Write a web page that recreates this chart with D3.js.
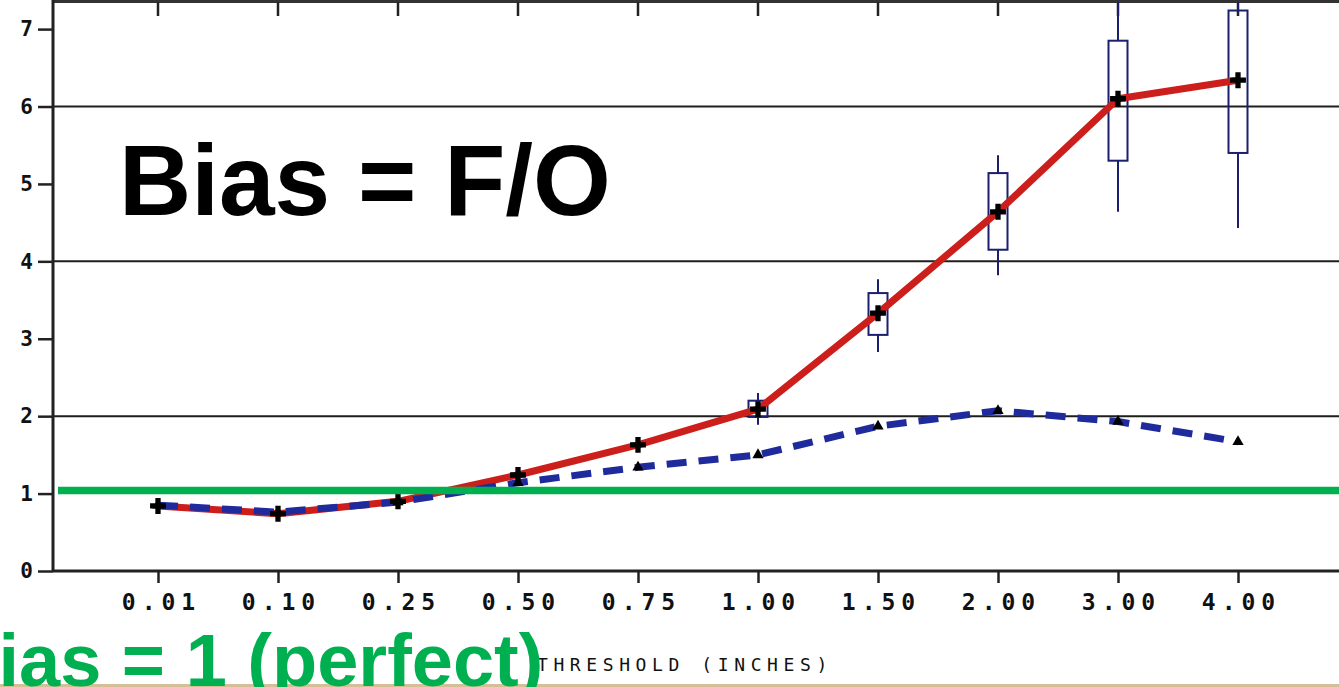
<!DOCTYPE html>
<html>
<head>
<meta charset="utf-8">
<script src="https://cdn.jsdelivr.net/npm/d3@7/dist/d3.min.js"></script>
<style>
  html, body { margin: 0; padding: 0; background: #ffffff; overflow: hidden; }
  svg { display: block; }
</style>
</head>
<body>
<svg id="chart" width="1339" height="687"></svg>
<script>
// ---- data ----
const categories = ["0.01", "0.10", "0.25", "0.50", "0.75", "1.00", "1.50", "2.00", "3.00", "4.00"];
const biasRed    = [0.84, 0.74, 0.90, 1.24, 1.63, 2.09, 3.33, 4.64, 6.10, 6.34];
const biasBlue   = [0.85, 0.76, 0.89, 1.14, 1.34, 1.50, 1.87, 2.07, 1.93, 1.67];
// box plots (whiskerLow, boxLow, boxHigh, whiskerHigh) for a subset of thresholds
const boxCats    = ["1.00", "1.50", "2.00", "3.00", "4.00"];
const whiskerLow = [1.89, 2.83, 3.82, 4.64, 4.43];
const boxLow     = [1.99, 3.05, 4.15, 5.30, 5.40];
const boxHigh    = [2.20, 3.59, 5.14, 6.85, 7.24];
const whiskerHigh= [2.30, 3.77, 5.37, 7.60, 7.60];
const yTicks     = [0, 1, 2, 3, 4, 5, 6, 7];
const gridValues = [2, 4, 6];
const perfectBias = 1.04;
const titleText  = "Bias = F/O";
const perfectText = "Bias = 1 (perfect)";
const xTitle     = "THRESHOLD (INCHES)";

// ---- layout ----
const W = 1339, H = 687;
const pLeft = 53, pTop = 2, pBottom = 571, pRight = 1343;
const svg = d3.select("#chart");

const x = d3.scalePoint().domain(categories).range([pLeft, pRight]).padding(0.875);
const y = d3.scaleLinear().domain([0, 7.35]).range([pBottom, pTop]);

svg.append("defs").append("clipPath").attr("id", "plotclip")
  .append("rect").attr("x", pLeft).attr("y", pTop).attr("width", W - pLeft).attr("height", pBottom - pTop);

// gridlines
svg.append("g").selectAll("line").data(gridValues).join("line")
  .attr("x1", pLeft).attr("x2", W)
  .attr("y1", d => y(d)).attr("y2", d => y(d))
  .attr("stroke", "#1e1e1e").attr("stroke-width", 2);

// top frame
svg.append("line").attr("x1", pLeft).attr("x2", W).attr("y1", 1.5).attr("y2", 1.5)
  .attr("stroke", "#333").attr("stroke-width", 3);
// top ticks
svg.append("g").selectAll("line").data(categories).join("line")
  .attr("x1", d => x(d)).attr("x2", d => x(d)).attr("y1", 2).attr("y2", 16)
  .attr("stroke", "#222").attr("stroke-width", 2.5);

// y axis
const yAxis = d3.axisLeft(y).tickValues(yTicks).tickSize(15).tickPadding(5).tickFormat(d3.format("d"));
const gy = svg.append("g").attr("transform", `translate(${pLeft},0)`).call(yAxis);
gy.select(".domain").remove();
gy.selectAll(".tick line").attr("stroke", "#222").attr("stroke-width", 2.5);
gy.selectAll(".tick text")
  .attr("font-family", "'DejaVu Sans Mono', monospace").attr("font-weight", "bold")
  .attr("font-size", 21).attr("fill", "#111");
svg.append("line").attr("x1", pLeft).attr("x2", pLeft).attr("y1", 0).attr("y2", pBottom + 1)
  .attr("stroke", "#222").attr("stroke-width", 3);

// x axis
const xAxis = d3.axisBottom(x).tickSize(12).tickPadding(11);
const gx = svg.append("g").attr("transform", `translate(0,${pBottom})`).call(xAxis);
gx.select(".domain").remove();
gx.selectAll(".tick line").attr("stroke", "#222").attr("stroke-width", 2.5);
gx.selectAll(".tick text")
  .attr("font-family", "'DejaVu Sans Mono', monospace").attr("font-weight", "bold")
  .attr("font-size", 23).attr("fill", "#111")
  .style("letter-spacing", "6px").attr("dx", 3);
svg.append("line").attr("x1", pLeft).attr("x2", W).attr("y1", pBottom).attr("y2", pBottom)
  .attr("stroke", "#222").attr("stroke-width", 3);

// x axis title
svg.append("text").attr("x", 537).attr("y", 671)
  .attr("font-family", "'DejaVu Sans Mono', monospace").attr("font-size", 18)
  .style("letter-spacing", "5.6px").attr("fill", "#111")
  .text(xTitle);

// box plots
const boxData = boxCats.map((c, i) => ({ c, wl: whiskerLow[i], bl: boxLow[i], bh: boxHigh[i], wh: whiskerHigh[i] }));
const gb = svg.append("g").attr("clip-path", "url(#plotclip)");
const bw = 19;
gb.selectAll("line.wlo").data(boxData).join("line").attr("class", "wlo")
  .attr("x1", d => x(d.c)).attr("x2", d => x(d.c))
  .attr("y1", d => y(d.wl)).attr("y2", d => y(d.bl))
  .attr("stroke", "#1c1f6e").attr("stroke-width", 2);
gb.selectAll("line.whi").data(boxData).join("line").attr("class", "whi")
  .attr("x1", d => x(d.c)).attr("x2", d => x(d.c))
  .attr("y1", d => y(d.bh)).attr("y2", d => y(d.wh))
  .attr("stroke", "#1c1f6e").attr("stroke-width", 2);
gb.selectAll("rect").data(boxData).join("rect")
  .attr("x", d => x(d.c) - bw / 2).attr("width", bw)
  .attr("y", d => y(d.bh)).attr("height", d => y(d.bl) - y(d.bh))
  .attr("fill", "none").attr("stroke", "#1c1f6e").attr("stroke-width", 2);

// red line
const line = (vals) => d3.line().x((d, i) => x(categories[i])).y(d => y(d))(vals);
svg.append("path").attr("d", line(biasRed))
  .attr("fill", "none").attr("stroke", "#cc1f1c").attr("stroke-width", 7)
  .attr("stroke-linejoin", "round");
// blue dashed line
svg.append("path").attr("d", line(biasBlue))
  .attr("fill", "none").attr("stroke", "#1f2a9c").attr("stroke-width", 7)
  .attr("stroke-dasharray", "20,12");

// markers
svg.append("g").selectAll("path").data(biasBlue).join("path")
  .attr("transform", (d, i) => `translate(${x(categories[i])},${y(d)})`)
  .attr("d", d3.symbol().type(d3.symbolTriangle).size(55))
  .attr("fill", "#000");
svg.append("g").selectAll("path").data(biasRed).join("path")
  .attr("transform", (d, i) => `translate(${x(categories[i])},${y(d)})`)
  .attr("d", d3.symbol().type(d3.symbolCross).size(140))
  .attr("fill", "#000");

// perfect-bias reference line
svg.append("line").attr("x1", pLeft + 5).attr("x2", W)
  .attr("y1", y(perfectBias)).attr("y2", y(perfectBias))
  .attr("stroke", "#00b050").attr("stroke-width", 7.5);

// overlay texts
svg.append("text").attr("x", 119).attr("y", 215)
  .attr("font-family", "'Liberation Sans', Arial, sans-serif").attr("font-weight", "bold")
  .attr("font-size", 100).attr("fill", "#000").text(titleText);

svg.append("rect").attr("x", 0).attr("y", 684).attr("width", W).attr("height", 3).attr("fill", "#d6bf98");

svg.append("text").attr("x", -55).attr("y", 686)
  .attr("font-family", "'Liberation Sans', Arial, sans-serif").attr("font-weight", "bold")
  .attr("font-size", 74).attr("fill", "#00b050").text(perfectText);
</script>
</body>
</html>
